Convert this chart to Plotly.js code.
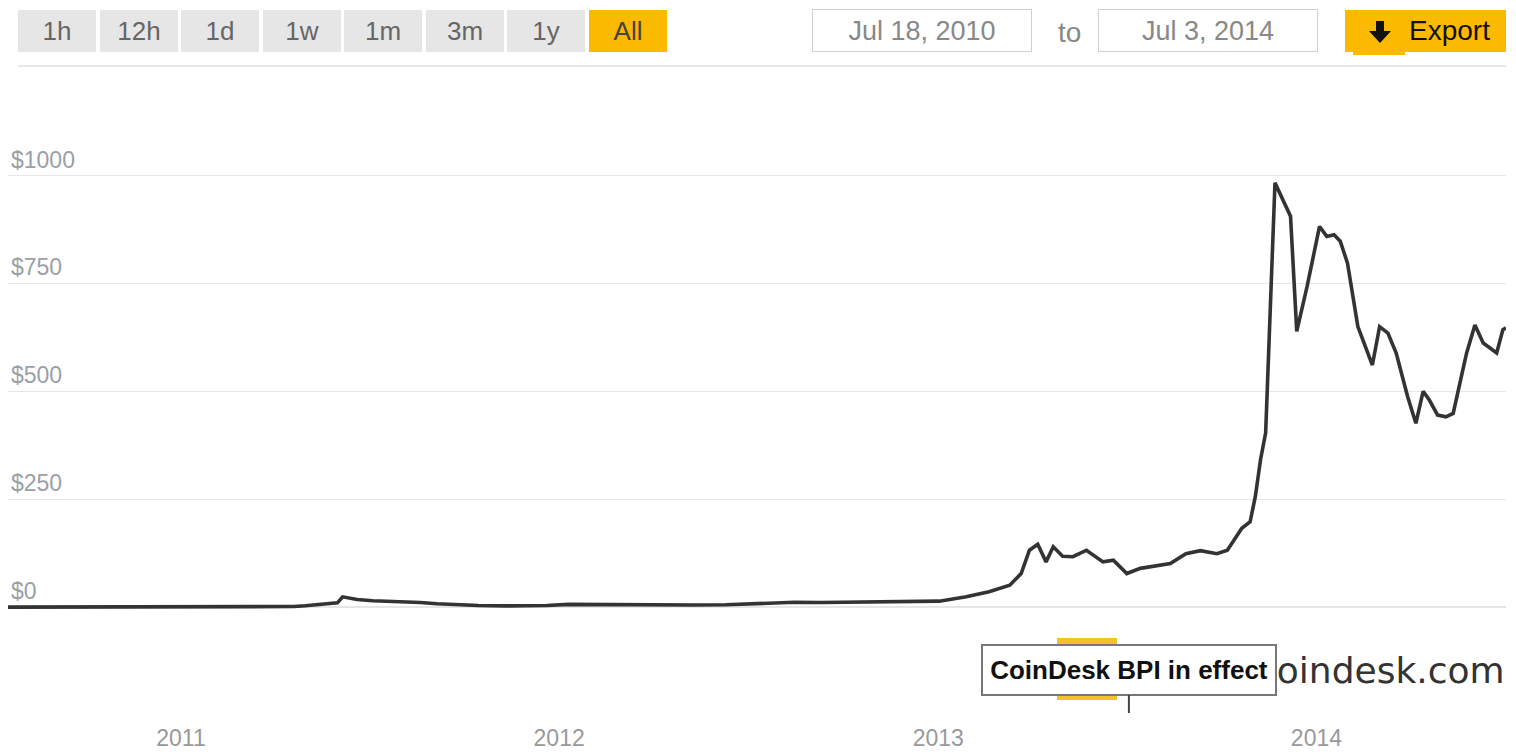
<!DOCTYPE html>
<html>
<head>
<meta charset="utf-8">
<script src="https://cdn.plot.ly/plotly-3.0.1.min.js"></script>
<style>
html,body{margin:0;padding:0;background:#fff;}
#chart{width:1516px;height:752px;}
</style>
</head>
<body>
<div id="chart"></div>
<script>
// ---- data (weekly-ish BPI closes) ----
const dates = [
  '2010-07-18','2010-08-15','2010-09-15','2010-10-15','2010-11-08','2010-12-01',
  '2011-01-01','2011-02-10','2011-03-10','2011-04-01','2011-04-20','2011-05-01',
  '2011-05-20','2011-06-01','2011-06-06','2011-06-20','2011-07-05','2011-07-25',
  '2011-08-05','2011-08-20','2011-09-05','2011-09-25','2011-10-15','2011-11-10',
  '2011-12-01','2011-12-20','2012-01-10','2012-02-10','2012-03-10','2012-04-10',
  '2012-05-10','2012-06-10','2012-07-10','2012-08-15','2012-09-10','2012-10-10',
  '2012-11-10','2012-12-10','2013-01-02','2013-01-28','2013-02-19','2013-03-11',
  '2013-03-22','2013-03-30','2013-04-07','2013-04-15','2013-04-22','2013-05-01',
  '2013-05-11','2013-05-24','2013-06-09','2013-06-19','2013-07-02','2013-07-15',
  '2013-07-31','2013-08-13','2013-08-28','2013-09-11','2013-09-27','2013-10-07',
  '2013-10-21','2013-10-29','2013-11-03','2013-11-08','2013-11-13','2013-11-18',
  '2013-11-22','2013-12-07','2013-12-13','2013-12-23','2014-01-04','2014-01-11',
  '2014-01-18','2014-01-24','2014-01-31','2014-02-10','2014-02-24','2014-03-03',
  '2014-03-11','2014-03-19','2014-03-30','2014-04-07','2014-04-14','2014-04-20',
  '2014-04-28','2014-05-06','2014-05-13','2014-05-26','2014-06-03','2014-06-11',
  '2014-06-24','2014-06-30','2014-07-03'
];
const prices = [
  0.09,0.07,0.06,0.1,0.3,0.22,
  0.3,1.0,0.9,0.8,1.5,3.2,
  7,10,24,18,15,14,
  12,11,8,5,4,3,
  3,3.8,6.5,5.8,5,4.9,
  5.1,5.6,7.5,11.5,11,12,
  11,13,14,24,36,51,
  78,132,146,105,140,118,
  117,132,105,109,78,90,
  97,101,124,131,124,132,
  183,198,256,341,404,700,
  983,906,639,743,882,859,
  863,848,797,650,561,650,
  635,589,488,426,500,480,
  445,441,449,589,654,612,
  589,643,647
];
const yTickVals = [0, 250, 500, 750, 1000];
const yTickText = ['$0', '$250', '$500', '$750', '$1000'];
const xTickVals = ['2011-01-01', '2012-01-01', '2013-01-01', '2014-01-01'];
const xTickText = ['2011', '2012', '2013', '2014'];
const rangeButtons = ['1h', '12h', '1d', '1w', '1m', '3m', '1y', 'All'];
const activeButton = 'All';
const dateFrom = 'Jul 18, 2010';
const dateTo = 'Jul 3, 2014';
const flagDate = '2013-07-04';
const flagText = 'CoinDesk BPI in effect';
const watermark = 'coindesk.com';

// ---- geometry helpers (page pixels -> paper coords) ----
const W = 1516, H = 752;
const M = {l: 8, r: 10, t: 100, b: 134};
const PW = W - M.l - M.r, PH = H - M.t - M.b;
const px = x => (x - M.l) / PW;
const py = y => (H - M.b - y) / PH;

const YELLOW = '#fbb900';
const FONT = 'Liberation Sans, Arial, sans-serif';

const annotations = [];
const shapes = [];

// range buttons
rangeButtons.forEach((b, i) => {
  const left = 18 + i * 81.5;
  annotations.push({
    xref: 'paper', yref: 'paper', x: px(left + 39), y: py(31),
    xanchor: 'center', yanchor: 'middle', showarrow: false,
    width: 78, height: 42, borderpad: 0, borderwidth: 0,
    bgcolor: b === activeButton ? YELLOW : '#e6e6e6',
    text: b, font: {family: FONT, size: 26, color: b === activeButton ? '#444' : '#666'}
  });
});
// date inputs
[[dateFrom, 922], [dateTo, 1208]].forEach(([t, cx]) => {
  annotations.push({
    xref: 'paper', yref: 'paper', x: px(cx), y: py(31),
    xanchor: 'center', yanchor: 'middle', showarrow: false,
    width: 218, height: 41, borderpad: 0, borderwidth: 1,
    bordercolor: '#d0d0d0', bgcolor: '#fff',
    text: t, font: {family: FONT, size: 27, color: '#888'}
  });
});
annotations.push({
  xref: 'paper', yref: 'paper', x: px(1069), y: py(33),
  xanchor: 'center', yanchor: 'middle', showarrow: false,
  text: 'to', font: {family: FONT, size: 28, color: '#888'}
});
// export button
shapes.push({type: 'rect', xref: 'paper', yref: 'paper', x0: px(1345), x1: px(1506), y0: py(52), y1: py(10),
  fillcolor: YELLOW, line: {width: 0}, layer: 'above'});
shapes.push({type: 'rect', xref: 'paper', yref: 'paper', x0: px(1353), x1: px(1405), y0: py(55), y1: py(50),
  fillcolor: YELLOW, line: {width: 0}, layer: 'above'});
shapes.push({type: 'path', xref: 'paper', yref: 'paper', layer: 'above',
  path: `M${px(1376)},${py(21)} L${px(1384)},${py(21)} L${px(1384)},${py(31)} L${px(1391)},${py(31)} L${px(1380)},${py(43)} L${px(1369)},${py(31)} L${px(1376)},${py(31)} Z`,
  fillcolor: '#111', line: {width: 0}});
annotations.push({
  xref: 'paper', yref: 'paper', x: px(1407), y: py(31),
  xanchor: 'left', yanchor: 'middle', showarrow: false,
  text: 'Export', font: {family: FONT, size: 28, color: '#111'}
});
// separator
shapes.push({type: 'line', xref: 'paper', yref: 'paper', x0: px(18), x1: px(1506), y0: py(66), y1: py(66),
  line: {color: '#e8e8e8', width: 2}, layer: 'above'});

// watermark
annotations.push({
  xref: 'paper', yref: 'paper', x: px(1507), y: py(670),
  xanchor: 'right', yanchor: 'middle', showarrow: false,
  text: watermark, font: {family: 'DejaVu Sans, sans-serif', size: 36, color: '#333'}
});
// hidden yellow flag behind the BPI flag
shapes.push({type: 'rect', xref: 'paper', yref: 'paper', x0: px(1057), x1: px(1117), y0: py(700), y1: py(638),
  fillcolor: '#f5c02a', line: {width: 0}, layer: 'above'});
// BPI flag
annotations.push({
  xref: 'x', yref: 'paper', x: flagDate, y: py(713),
  showarrow: true, arrowhead: 0, arrowwidth: 2, arrowcolor: '#444',
  ax: 0, ay: -43,
  width: 288, height: 44, borderpad: 2, borderwidth: 2,
  bordercolor: '#777', bgcolor: '#fff',
  text: '<b>' + flagText + '</b>', font: {family: FONT, size: 26, color: '#111'}
});

const trace = {
  x: dates, y: prices, type: 'scatter', mode: 'lines',
  line: {color: '#333', width: 3.6},
  hoverinfo: 'skip'
};

const layout = {
  width: W, height: H,
  margin: M,
  paper_bgcolor: '#fff', plot_bgcolor: '#fff',
  showlegend: false,
  font: {family: FONT},
  xaxis: {
    type: 'date', range: ['2010-07-18', '2014-07-03'],
    tickvals: xTickVals, ticktext: xTickText,
    showgrid: false, zeroline: false, showline: false, ticks: '',
    ticklabelstandoff: 104,
    tickfont: {family: FONT, size: 23, color: '#999'}
  },
  yaxis: {
    range: [-25, 1175],
    tickvals: yTickVals, ticktext: yTickText,
    ticklabelposition: 'inside top',
    showgrid: true, gridcolor: '#e6e6e6', gridwidth: 1.5,
    zeroline: false, showline: false, ticks: '',
    tickfont: {family: FONT, size: 23, color: '#9aa0a6'}
  },
  shapes: shapes,
  annotations: annotations
};

Plotly.newPlot('chart', [trace], layout, {displayModeBar: false, staticPlot: true});
</script>
</body>
</html>
